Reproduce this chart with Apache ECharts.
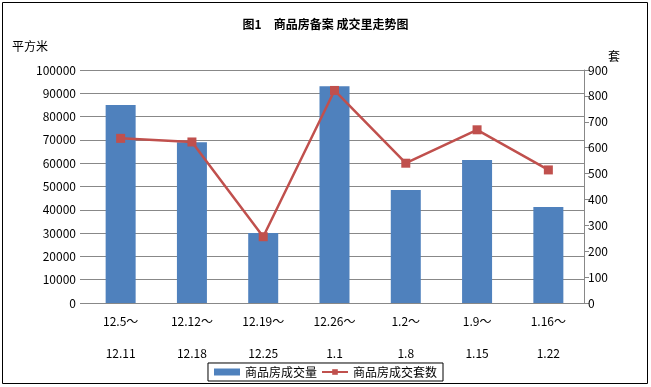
<!DOCTYPE html>
<html><head><meta charset="utf-8">
<script src="https://cdn.jsdelivr.net/npm/echarts@6/dist/echarts.min.js"></script>
<style>html,body{margin:0;padding:0;background:#fff}#c{width:651px;height:387px}</style>
</head><body><div id="c"></div>
<script>
const categories = ['12.5～\n12.11','12.12～\n12.18','12.19～\n12.25','12.26～\n1.1','1.2～\n1.8','1.9～\n1.15','1.16～\n1.22'];
const areaValues = [85000, 69000, 30000, 93000, 48500, 61400, 41200];
const unitValues = [636, 622, 256, 821, 540, 669, 514];
const seriesNames = ['商品房成交量','商品房成交套数'];
const titleText = '图1　商品房备案 成交里走势图';
const leftUnit = '平方米';
const rightUnit = '套';

const font = '"Noto Sans CJK SC", sans-serif';
const chart = echarts.init(document.getElementById('c'));
chart.setOption({
  animation: false,
  backgroundColor: '#fff',
  graphic: [
    {type:'rect', shape:{x:2.5,y:2.5,width:645,height:381}, style:{fill:'none',stroke:'#000',lineWidth:1}, silent:true},
    {type:'text', left:12, top:40, style:{text:leftUnit, fill:'#000', fontSize:12, fontFamily:font}, silent:true}
  ],
  title: {text: titleText, left: 'center', top: 13, textStyle:{fontSize:12, fontWeight:'bold', color:'#000', fontFamily: font}},
  legend: {bottom: 6, left: 'center', itemGap: 4, borderColor:'#000', borderWidth:1, padding:[3,6], itemWidth:26, itemHeight:7,
    textStyle:{fontSize:12, color:'#000', fontFamily: font},
    data:[{name:seriesNames[0], icon:'rect'}, {name:seriesNames[1]}]},
  grid: {left: 85, right: 67, top: 70, bottom: 84},
  xAxis: {type:'category', data: categories,
    axisLine:{lineStyle:{color:'#888'}}, axisTick:{show:false},
    axisLabel:{color:'#000', fontSize:12, fontFamily: font, lineHeight:32, margin:2, interval:0}},
  yAxis: [
    {type:'value', min:0, max:100000, interval:10000,
     axisLine:{show:false}, axisTick:{show:true, length:5, lineStyle:{color:'#888'}},
     axisLabel:{color:'#000', fontSize:12, fontFamily:font, margin:9, formatter: v => String(v)},
     splitLine:{lineStyle:{color:'#888'}}},
    {type:'value', min:0, max:900, interval:100, name: rightUnit, nameLocation:'end', nameGap:8,
     nameTextStyle:{color:'#000', fontSize:12, fontFamily:font, align:'left', padding:[0,0,0,24]},
     axisLine:{show:true, lineStyle:{color:'#888'}}, axisTick:{show:true, length:5, lineStyle:{color:'#888'}},
     axisLabel:{color:'#000', fontSize:12, fontFamily:font, margin:4},
     splitLine:{show:false}}
  ],
  series: [
    {name: seriesNames[0], type:'bar', data: areaValues, barWidth:30, itemStyle:{color:'#4F81BD'}},
    {name: seriesNames[1], type:'line', yAxisIndex:1, data: unitValues, symbol:'rect', symbolSize:9,
     lineStyle:{color:'#C0504D', width:2.5}, itemStyle:{color:'#C0504D'}}
  ]
});
</script></body></html>
